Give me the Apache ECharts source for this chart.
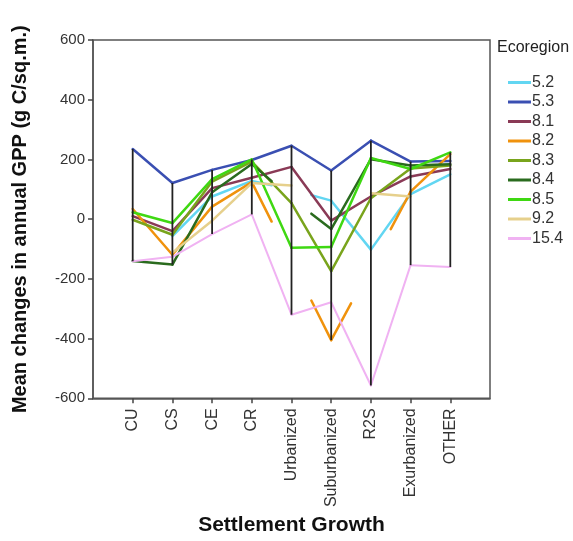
<!DOCTYPE html>
<html><head><meta charset="utf-8">
<script src="https://cdn.jsdelivr.net/npm/echarts@6/dist/echarts.min.js"></script>
<style>html,body{margin:0;padding:0;background:#fff}#c{width:573px;height:541px}</style>
</head><body><div id="c"></div>
<script>
// ---- data ----
const categories = ['CU','CS','CE','CR','Urbanized','Suburbanized','R2S','Exurbanized','OTHER'];
const yTicks = [-600,-400,-200,0,200,400,600];
const ecoregions = ['5.2','5.3','8.1','8.2','8.3','8.4','8.5','9.2','15.4'];
const eco_5_2  = [null, -57,  76, 128,   99,   62, -102,   84,  150];
const eco_5_3  = [ 235, 121, 165, 198,  246,  163,  263,  193,  195];
const eco_8_1  = [  10, -40, 104, 139,  175,   -5,   76,  143,  168];
const eco_8_2  = [  34,-119,  42, 124, -140, -405, -159,   92,  218];
const eco_8_3  = [  -2, -52, 126, 193,   54, -174,   70,  170,  180];
const eco_8_4  = [-140,-152,  90, 185,   70,  -33,  201,  180,  184];
const eco_8_5  = [  23, -13, 134, 200,  -96,  -93,  205,  168,  224];
const eco_9_2  = [null,-112,  -5, 121,  113, null,   87,   76, null];
const eco_15_4 = [-141,-126, -50,  16, -320, -278, -557, -154, -160];
// points whose adjacent segments are drawn only half-way (index into categories)
const hidden_5_2 = [4];
const hidden_8_2 = [4, 6];
const hidden_8_4 = [4];

const seriesValues = [eco_5_2, eco_5_3, eco_8_1, eco_8_2, eco_8_3, eco_8_4, eco_8_5, eco_9_2, eco_15_4];
const seriesHidden = [hidden_5_2, [], [], hidden_8_2, [], hidden_8_4, [], [], []];
const colors = ['#62d6f2','#3a4fb2','#8a3a56','#f0920c','#79a41c','#2a6b1e','#3fd812','#e6d08c','#f0b2f2'];

function segData(vals, hid) {
  const out = [];
  for (let i = 0; i < vals.length - 1; i++) {
    const a = vals[i], b = vals[i + 1];
    if (a == null || b == null) continue;
    const ha = hid.includes(i) ? 1 : 0, hb = hid.includes(i + 1) ? 1 : 0;
    if (ha && hb) continue;
    out.push([i + 1, a, i + 2, b, ha, hb]);
  }
  return out;
}
function rangeData() {
  const out = [];
  for (let i = 0; i < categories.length; i++) {
    const vs = seriesValues.map(s => s[i]).filter(v => v != null);
    out.push([i + 1, Math.min(...vs), Math.max(...vs)]);
  }
  return out;
}

const font = 'Liberation Sans, Arial, sans-serif';
const series = ecoregions.map((name, k) => ({
  name, type: 'custom', z: 2 + k,
  itemStyle: { color: colors[k] },
  encode: { x: [0, 2], y: [1, 3] },
  data: segData(seriesValues[k], seriesHidden[k]),
  renderItem: (params, api) => {
    const a = api.coord([api.value(0), api.value(1)]);
    const b = api.coord([api.value(2), api.value(3)]);
    const m = [(a[0] + b[0]) / 2, (a[1] + b[1]) / 2];
    const p = api.value(4) ? m : a, q = api.value(5) ? m : b;
    return { type: 'line', shape: { x1: p[0], y1: p[1], x2: q[0], y2: q[1] },
      style: { stroke: colors[k], lineWidth: name === '15.4' ? 2 : 2.5, lineCap: 'round' } };
  }
}));
series.push({
  name: 'range', type: 'custom', z: 20,
  encode: { x: 0, y: [1, 2] },
  data: rangeData(),
  renderItem: (params, api) => {
    const a = api.coord([api.value(0), api.value(1)]);
    const b = api.coord([api.value(0), api.value(2)]);
    return { type: 'line', shape: { x1: a[0], y1: a[1], x2: b[0], y2: b[1] },
      style: { stroke: '#222', lineWidth: 1.8 } };
  }
});

const chart = echarts.init(document.getElementById('c'), null, { renderer: 'canvas' });
chart.setOption({
  animation: false,
  backgroundColor: '#fff',
  textStyle: { fontFamily: font },
  grid: { left: 93, right: 83, top: 40, bottom: 142, show: true, borderColor: '#555', borderWidth: 1.5 },
  graphic: [{ type: 'text', left: 497, top: 40, style: { text: 'Ecoregion', font: '16px ' + font, fill: '#222' } }],
  legend: {
    data: ecoregions, orient: 'vertical', left: 503, top: 69,
    icon: 'rect', itemWidth: 23, itemHeight: 3, itemGap: 2.5,
    textStyle: { fontSize: 16, color: '#333', fontFamily: font, lineHeight: 17, padding: [0, 0, 0, -4] },
    selectedMode: false
  },
  xAxis: {
    type: 'value', min: 0, max: 10, interval: 1,
    name: 'Settlement Growth', nameLocation: 'middle', nameGap: 112,
    nameTextStyle: { fontSize: 21, fontWeight: 'bold', color: '#111', fontFamily: font },
    axisLine: { onZero: false, lineStyle: { color: '#555', width: 1.5 } },
    axisTick: { customValues: [1,2,3,4,5,6,7,8,9], length: 5, lineStyle: { color: '#444', width: 1.5 } },
    axisLabel: { customValues: [1,2,3,4,5,6,7,8,9], formatter: v => categories[v - 1] || '',
      rotate: 90, fontSize: 16, color: '#333', margin: 10, fontFamily: font },
    splitLine: { show: false }
  },
  yAxis: {
    type: 'value', min: yTicks[0], max: yTicks[yTicks.length - 1], interval: 200,
    name: 'Mean changes in annual GPP (g C/sq.m.)', nameLocation: 'middle', nameGap: 63,
    nameTextStyle: { fontSize: 20, fontWeight: 'bold', color: '#111', fontFamily: font },
    axisLine: { show: true, lineStyle: { color: '#555', width: 1.5 } },
    axisTick: { show: true, length: 5, lineStyle: { color: '#444', width: 1.5 } },
    axisLabel: { fontSize: 15, color: '#333', margin: 8, fontFamily: font },
    splitLine: { show: false }
  },
  series
});
</script></body></html>
